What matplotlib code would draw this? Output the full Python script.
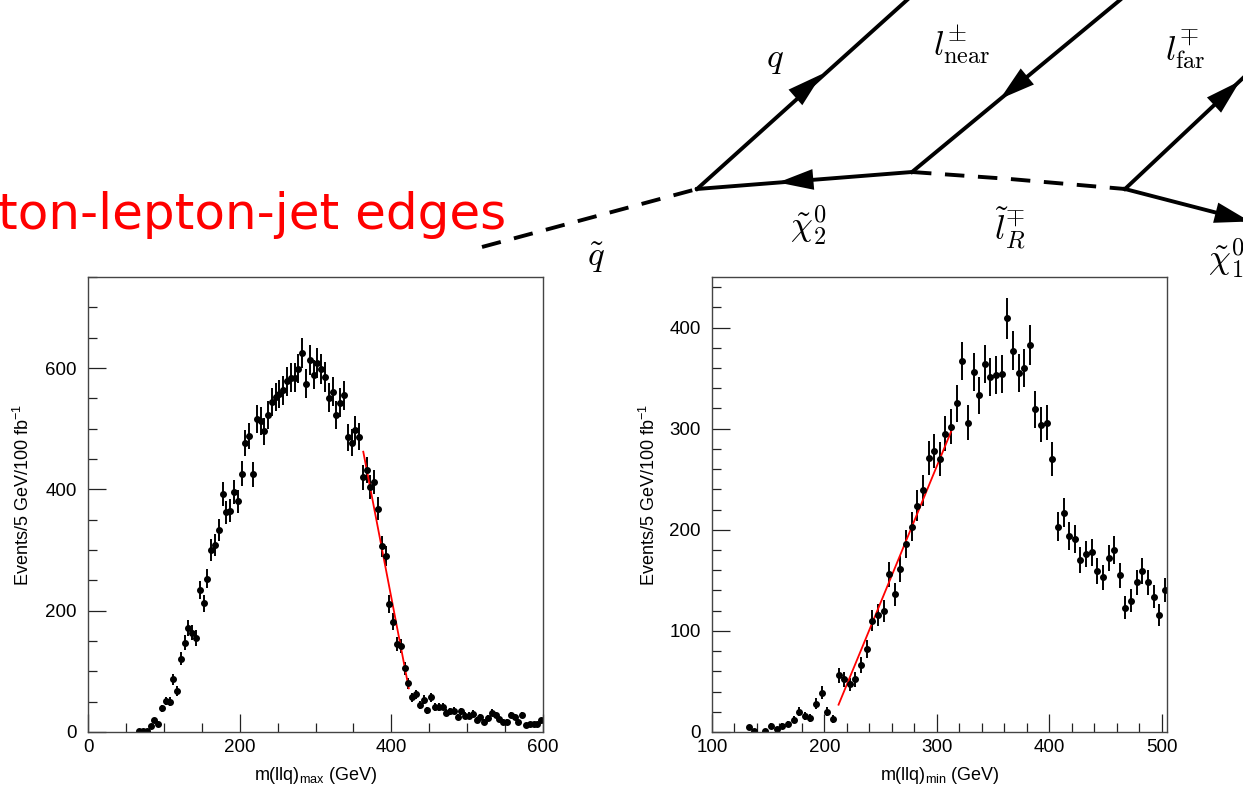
import numpy as np
import matplotlib
matplotlib.use("Agg")
import matplotlib.pyplot as plt
from matplotlib.ticker import MultipleLocator

plt.rcParams['font.family'] = ['Liberation Sans', 'DejaVu Sans']
plt.rcParams['mathtext.fontset'] = 'custom'
plt.rcParams['mathtext.rm'] = 'Liberation Sans'
plt.rcParams['mathtext.it'] = 'Liberation Sans:italic'
plt.rcParams['mathtext.bf'] = 'Liberation Sans:bold'

# m(llq)max : 5 GeV bins, 0 - 600 GeV
max_counts = [
    0, 0, 0, 0, 0, 0, 0, 0, 0, 0,
    0, 0, 0, 1, 1, 2, 10, 19, 14, 39,
    51, 50, 87, 67, 121, 147, 172, 164, 155, 234,
    212, 253, 300, 308, 333, 393, 362, 365, 396, 380,
    426, 476, 488, 425, 516, 513, 496, 522, 544, 552,
    557, 563, 578, 584, 584, 599, 625, 574, 613, 589,
    608, 598, 585, 551, 561, 523, 543, 555, 486, 477,
    498, 487, 420, 432, 404, 412, 368, 306, 290, 211,
    182, 145, 142, 105, 80, 57, 62, 45, 53, 36,
    57, 41, 41, 42, 32, 34, 35, 25, 34, 27,
    27, 30, 20, 24, 17, 23, 32, 28, 21, 17,
    17, 28, 25, 17, 28, 12, 13, 13, 13, 19,
]

# m(llq)min : 5 GeV bins, 100 - 505 GeV
min_counts = [
    0, 0, 0, 0, 0, 0, 5, 1, 0, 1,
    6, 3, 6, 8, 12, 20, 16, 14, 28, 39,
    20, 13, 56, 52, 47, 52, 66, 82, 110, 116,
    120, 156, 136, 161, 186, 203, 224, 239, 271, 278,
    270, 295, 302, 325, 367, 306, 356, 333, 364, 351,
    353, 354, 409, 377, 355, 360, 383, 319, 304, 306,
    270, 203, 217, 194, 191, 170, 176, 178, 159, 153,
    172, 180, 155, 123, 130, 148, 159, 148, 134, 116,
    140,
]

# straight-line edge fits (red)
fit_max_x = [363, 423]
fit_max_y = [462, 72]
fit_min_x = [212.5, 312.5]
fit_min_y = [27, 297]

# decay chain sketch, in page pixels (x right, y down)
squark_x, squark_y = [482, 697], [247, 189]
quark_x, quark_y = [697, 907], [189, 0]
chi2_x, chi2_y = [697, 912], [189, 172]
lnear_x, lnear_y = [912, 1120], [172, 0]
slep_x, slep_y = [912, 1010, 1125], [172, 179, 189]
lfar_x, lfar_y = [1125, 1260], [189, 62]
chi1_x, chi1_y = [1125, 1260], [189, 224]
# arrow heads: (base, tip)
arrows = [((780, 111), (822, 74)),
          ((830, 178), (778, 182.5)),
          ((1040, 66), (1000, 99)),
          ((1200, 118), (1240, 81)),
          ((1205, 210), (1250, 221.5))]
labels = [(775, 60, r'$q$'),
          (962, 45, r'$l^{\pm}_{\rm near}$'),
          (1185, 50, r'$l^{\mp}_{\rm far}$'),
          (808, 225, r'$\tilde{\chi}^0_2$'),
          (1010, 228, r'$\tilde{l}^{\mp}_R$'),
          (596, 258, r'$\tilde{q}$'),
          (1226, 258, r'$\tilde{\chi}^0_1$')]

W, H = 1243, 790
fig = plt.figure(figsize=(W / 100, H / 100), dpi=100)

# overlay for the title and the diagram
ov = fig.add_axes([0, 0, 1, 1])
ov.set_xlim(0, W)
ov.set_ylim(H, 0)
ov.axis('off')
lw = 2.8
ov.plot(squark_x, squark_y, color='k', lw=lw, ls=(0, (5, 3.5)), solid_capstyle='butt')
ov.plot(slep_x, slep_y, color='k', lw=lw, ls=(0, (5, 3.5)))
for xs, ys in [(quark_x, quark_y), (chi2_x, chi2_y), (lnear_x, lnear_y),
               (lfar_x, lfar_y), (chi1_x, chi1_y)]:
    ov.plot(xs, ys, color='k', lw=lw, solid_joinstyle='miter')
for base, tip in arrows:
    ov.annotate('', xy=tip, xytext=base, annotation_clip=False,
                arrowprops=dict(arrowstyle='-|>,head_length=0.75,head_width=0.22',
                                mutation_scale=34, lw=0, color='k',
                                shrinkA=0, shrinkB=0))
for x, y, s in labels:
    ov.text(x, y, s, fontsize=25, ha='center', va='center', math_fontfamily='cm')
ov.text(506, 229, 'ton-lepton-jet edges', color='red', fontsize=36,
        family='DejaVu Sans', ha='right', va='baseline')


def panel(rect, centers, counts, fx, fy, xlim, ylim, xmaj, xmin, ymaj, ymin, xlab, ylab_x):
    ax = fig.add_axes(rect)
    centers = np.asarray(centers, dtype=float)
    counts = np.asarray(counts, dtype=float)
    keep = counts > 0
    ax.errorbar(centers[keep], counts[keep], yerr=np.sqrt(counts[keep]), fmt='o',
                color='k', ms=4.0, elinewidth=1.4, capsize=0)
    ax.plot(fx, fy, color='red', lw=1.3)
    ax.set_xlim(*xlim)
    ax.set_ylim(*ylim)
    ax.xaxis.set_major_locator(MultipleLocator(xmaj))
    ax.xaxis.set_minor_locator(MultipleLocator(xmin))
    ax.yaxis.set_major_locator(MultipleLocator(ymaj))
    ax.yaxis.set_minor_locator(MultipleLocator(ymin))
    ax.tick_params(which='both', direction='in', top=False, right=False,
                   width=0.9, color='#222222', labelsize=13.5)
    ax.tick_params(which='major', length=13)
    ax.tick_params(which='minor', length=6.5)
    ax.tick_params(axis='x', pad=5)
    ax.tick_params(axis='y', pad=8)
    for sp in ax.spines.values():
        sp.set_color('#444444')
        sp.set_linewidth(1.0)
    ax.set_ylabel(r'Events/5 GeV/100 fb$^{-1}$', fontsize=13)
    ax.yaxis.set_label_coords(ylab_x, 0.52)
    ax.set_xlabel(xlab, fontsize=13)
    ax.xaxis.set_label_coords(0.5, -0.072)
    return ax


pw, ph = 455 / W, 455 / H
bottom = (H - 732) / H
max_centers = np.arange(len(max_counts)) * 5 + 2.5
min_centers = 100 + np.arange(len(min_counts)) * 5 + 2.5

panel([88 / W, bottom, pw, ph], max_centers, max_counts, fit_max_x, fit_max_y,
      (0, 600), (0, 750), 200, 50, 200, 50,
      r'm(llq)$_{\mathregular{max}}$ (GeV)', -0.121)
panel([712 / W, bottom, pw, ph], min_centers, min_counts, fit_min_x, fit_min_y,
      (100, 504.5), (0, 450), 100, 20, 100, 20,
      r'm(llq)$_{\mathregular{min}}$ (GeV)', -0.116)

fig.savefig('out.png', dpi=100)
